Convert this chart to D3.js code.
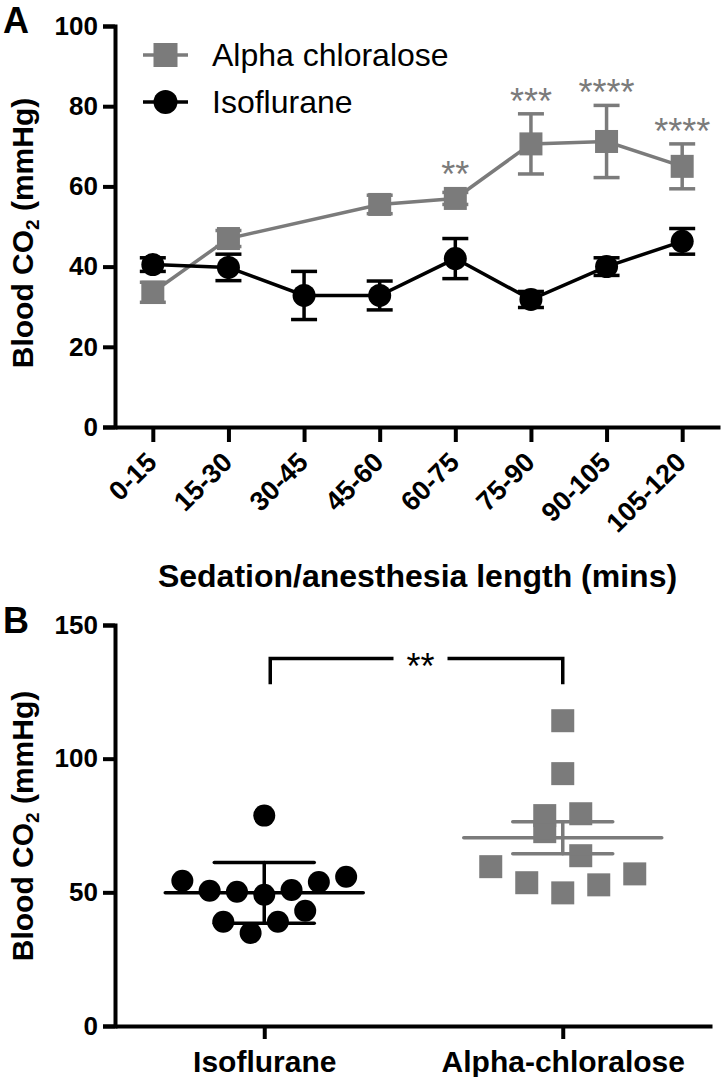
<!DOCTYPE html>
<html>
<head>
<meta charset="utf-8">
<script src="https://cdn.jsdelivr.net/npm/d3@7"></script>
<style>
  html, body { margin: 0; padding: 0; background: #fff; }
  svg { display: block; font-family: Arial, "Liberation Sans", Helvetica, sans-serif; }
</style>
</head>
<body>
<svg id="chart" width="722" height="1077"></svg>
<script>
// ---------- Panel A data ----------
const categories = ["0-15", "15-30", "30-45", "45-60", "60-75", "75-90", "90-105", "105-120"];
const alphaMean = [33.6, 47.0, null, 55.5, 57.0, 70.6, 71.2, 65.0];
const alphaErr  = [2.5, 2.0, null, 2.3, 1.5, 7.5, 9.0, 5.6];
const isoMean   = [40.5, 39.8, 32.8, 32.8, 42.0, 31.8, 40.0, 46.3];
const isoErr    = [1.7, 3.3, 6.0, 3.6, 5.0, 2.0, 2.2, 3.2];
const alphaSig  = ["", "", "", "", "**", "***", "****", "****"];
const seriesNames = ["Alpha chloralose", "Isoflurane"];
const yTicksA = [0, 20, 40, 60, 80, 100];

// ---------- Panel B data ----------
const groups = ["Isoflurane", "Alpha-chloralose"];
const isoValues   = [78.7, 54.3, 50.6, 50.2, 49.1, 50.9, 53.9, 55.8, 39.0, 34.8, 39.0, 43.1];
const alphaValues = [114.2, 94.4, 78.7, 79.4, 72.7, 63.7, 59.6, 53.6, 49.8, 52.8, 56.9];
const groupMean = [49.8, 70.4];
const groupErr  = [11.4, 6.0];
const bracket = { top: 137.5, bottom: 127.8, label: "**" };
const yTicksB = [0, 50, 100, 150];

// ---------- styles ----------
const GRAY = "#7b7b7b";
const BLACK = "#000";
const AXW = 4;

const svg = d3.select("#chart");
svg.append("rect").attr("width", 722).attr("height", 1077).attr("fill", "#fff");

function styleAxis(g) {
  g.selectAll(".domain").attr("stroke", BLACK).attr("stroke-width", AXW).attr("fill", "none");
  g.selectAll(".tick line").attr("stroke", BLACK).attr("stroke-width", AXW);
  g.selectAll(".tick text").attr("fill", BLACK).attr("font-size", 26).attr("font-weight", "bold")
    .attr("font-family", 'Arial, "Liberation Sans", Helvetica, sans-serif');
}

function yTitle(g, x, y) {
  const t = g.append("text")
    .attr("transform", `translate(${x},${y}) rotate(-90)`)
    .attr("text-anchor", "middle")
    .attr("font-size", 30).attr("font-weight", "bold").attr("fill", BLACK);
  t.append("tspan").text("Blood CO");
  t.append("tspan").text("2").attr("font-size", 19).attr("dy", 6);
  t.append("tspan").text(" (mmHg)").attr("dy", -6);
}

// ================= Panel A =================
const A = svg.append("g");
const xA = d3.scalePoint().domain(categories).range([115, 720]).padding(0.5);
const yA = d3.scaleLinear().domain([0, 100]).range([427, 26]);

const axYA = A.append("g").attr("transform", "translate(115,0)")
  .call(d3.axisLeft(yA).tickValues(yTicksA).tickSize(12).tickPadding(5));
styleAxis(axYA);

const axXA = A.append("g").attr("transform", "translate(0,427)")
  .call(d3.axisBottom(xA).tickSize(15).tickSizeOuter(0));
styleAxis(axXA);
axXA.selectAll(".tick text")
  .attr("y", 0).attr("dy", 0).attr("font-size", 27)
  .attr("text-anchor", "end")
  .attr("transform", "translate(5,37) rotate(-45)");

A.append("text").attr("x", 3).attr("y", 33).attr("font-size", 36).attr("font-weight", "bold").text("A");
yTitle(A, 33, 233);
A.append("text").attr("x", 417.5).attr("y", 587).attr("text-anchor", "middle")
  .attr("font-size", 32).attr("font-weight", "bold").text("Sedation/anesthesia length (mins)");

const alphaPts = categories.map((c, i) => ({ c, v: alphaMean[i], e: alphaErr[i], s: alphaSig[i] })).filter(d => d.v != null);
const isoPts = categories.map((c, i) => ({ c, v: isoMean[i], e: isoErr[i] }));

const line = d3.line().x(d => xA(d.c)).y(d => yA(d.v));

function drawSeries(pts, color, shape) {
  A.append("path").datum(pts).attr("d", line).attr("fill", "none")
    .attr("stroke", color).attr("stroke-width", 3.5);
  const eb = A.append("g").attr("stroke", color).attr("stroke-width", 3.5);
  pts.forEach(d => {
    const x = xA(d.c), y1 = yA(d.v + d.e), y0 = yA(d.v - d.e);
    eb.append("line").attr("x1", x).attr("x2", x).attr("y1", y1).attr("y2", y0);
    eb.append("line").attr("x1", x - 13).attr("x2", x + 13).attr("y1", y1).attr("y2", y1);
    eb.append("line").attr("x1", x - 13).attr("x2", x + 13).attr("y1", y0).attr("y2", y0);
  });
  const m = A.append("g").attr("fill", color);
  if (shape === "square") {
    m.selectAll("rect").data(pts).join("rect")
      .attr("x", d => xA(d.c) - 11.5).attr("y", d => yA(d.v) - 11.5)
      .attr("width", 23).attr("height", 23);
  } else {
    m.selectAll("circle").data(pts).join("circle")
      .attr("cx", d => xA(d.c)).attr("cy", d => yA(d.v)).attr("r", 11.5);
  }
}
drawSeries(alphaPts, GRAY, "square");
drawSeries(isoPts, BLACK, "circle");

// significance asterisks
A.append("g").selectAll("text").data(alphaPts.filter(d => d.s)).join("text")
  .attr("x", d => xA(d.c))
  .attr("y", d => Math.min(yA(d.v + d.e), yA(d.v) - 11.5) - 21 + 21)
  .attr("text-anchor", "middle").attr("font-size", 36).attr("fill", GRAY)
  .text(d => d.s);

// legend
const leg = A.append("g");
[[GRAY, "square", 55], [BLACK, "circle", 102]].forEach(([col, shp, ly], i) => {
  leg.append("line").attr("x1", 143).attr("x2", 188).attr("y1", ly).attr("y2", ly)
    .attr("stroke", col).attr("stroke-width", 3.5);
  if (shp === "square") leg.append("rect").attr("x", 153.5).attr("y", ly - 12).attr("width", 24).attr("height", 24).attr("fill", col);
  else leg.append("circle").attr("cx", 165.5).attr("cy", ly).attr("r", 12).attr("fill", col);
  leg.append("text").attr("x", 212).attr("y", ly + 11).attr("font-size", 32).attr("fill", BLACK).text(seriesNames[i]);
});

// ================= Panel B =================
const B = svg.append("g");
const xB = d3.scalePoint().domain(groups).range([115, 712]).padding(0.5);
const yB = d3.scaleLinear().domain([0, 150]).range([1026, 625]);

const axYB = B.append("g").attr("transform", "translate(115,0)")
  .call(d3.axisLeft(yB).tickValues(yTicksB).tickSize(12).tickPadding(5));
styleAxis(axYB);
const axXB = B.append("g").attr("transform", "translate(0,1026)")
  .call(d3.axisBottom(xB).tickSize(13).tickSizeOuter(0));
styleAxis(axXB);
axXB.selectAll(".tick text").attr("y", 46).attr("dy", 0).attr("font-size", 30);

B.append("text").attr("x", 3).attr("y", 633).attr("font-size", 36).attr("font-weight", "bold").text("B");
yTitle(B, 33, 826);

function swarmOffsets(values, rowSpan, spacing) {
  const idx = d3.range(values.length).sort((a, b) => values[a] - values[b]);
  const rows = []; let cur = null;
  idx.forEach(i => {
    if (!cur || values[i] - values[cur[0]] > rowSpan) { cur = [i]; rows.push(cur); }
    else cur.push(i);
  });
  const offs = new Array(values.length);
  rows.forEach(r => { r.sort((a, b) => a - b); r.forEach((i, k) => offs[i] = (k - (r.length - 1) / 2) * spacing); });
  return offs;
}

const isoOff = swarmOffsets(isoValues, 10, 27.3);
const alOff = swarmOffsets(alphaValues, 10, 36);

B.append("g").attr("fill", BLACK).selectAll("circle").data(isoValues).join("circle")
  .attr("cx", (d, i) => xB(groups[0]) + isoOff[i]).attr("cy", d => yB(d)).attr("r", 11);
B.append("g").attr("fill", GRAY).selectAll("rect").data(alphaValues).join("rect")
  .attr("x", (d, i) => xB(groups[1]) + alOff[i] - 11.5).attr("y", d => yB(d) - 11.5)
  .attr("width", 23).attr("height", 23);

// mean and error lines
[[0, BLACK], [1, GRAY]].forEach(([gi, col]) => {
  const x = xB(groups[gi]), m = groupMean[gi], e = groupErr[gi];
  const g = B.append("g").attr("stroke", col).attr("stroke-width", 3.5).attr("stroke-linecap", "round");
  g.append("line").attr("x1", x - 99).attr("x2", x + 99).attr("y1", yB(m)).attr("y2", yB(m));
  g.append("line").attr("x1", x).attr("x2", x).attr("y1", yB(m + e)).attr("y2", yB(m - e));
  g.append("line").attr("x1", x - 50).attr("x2", x + 50).attr("y1", yB(m + e)).attr("y2", yB(m + e));
  g.append("line").attr("x1", x - 50).attr("x2", x + 50).attr("y1", yB(m - e)).attr("y2", yB(m - e));
});

// significance bracket
const bx0 = xB(groups[0]) + 6, bx1 = xB(groups[1]);
const by = yB(bracket.top), byb = yB(bracket.bottom);
const bmid = (bx0 + bx1) / 2 + 4;
const br = B.append("g").attr("stroke", BLACK).attr("stroke-width", 3.5).attr("fill", "none");
br.append("path").attr("d", `M${bx0},${byb}V${by}H${bmid - 27}`);
br.append("path").attr("d", `M${bmid + 27},${by}H${bx1}V${byb}`);
B.append("text").attr("x", bmid).attr("y", by + 21).attr("text-anchor", "middle")
  .attr("font-size", 36).attr("fill", BLACK).text(bracket.label);
</script>
</body>
</html>
